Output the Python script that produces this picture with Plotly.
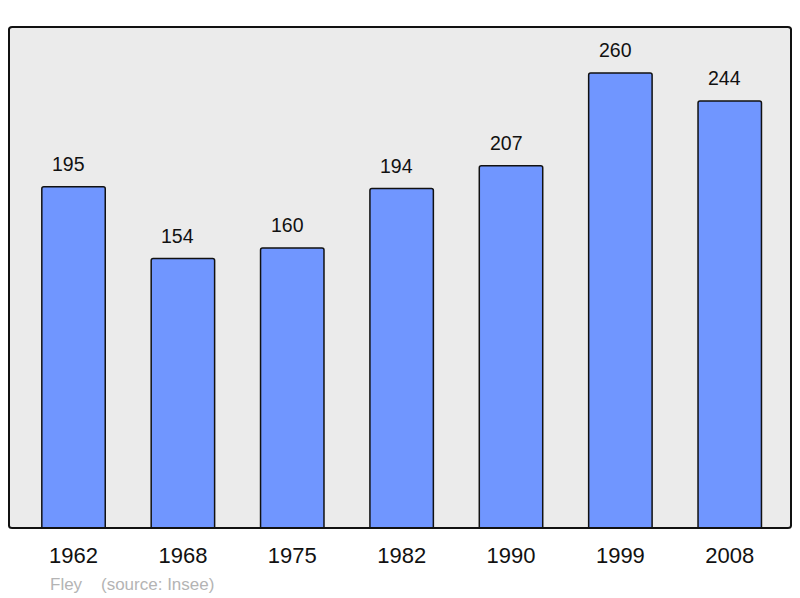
import plotly.graph_objects as go

years = ["1962", "1968", "1975", "1982", "1990", "1999", "2008"]
population = [195, 154, 160, 194, 207, 260, 244]

FONT = "Liberation Sans, Arial, sans-serif"
positions = list(range(len(years)))

fig = go.Figure(go.Bar(
    x=positions, y=population,
    width=0.58,
    marker=dict(color="#7096FF", line=dict(color="#111", width=1.5), cornerradius=2),
    hoverinfo="skip",
))

# value labels above each bar (sit slightly left of centre in the original)
for xi, v in zip(positions, population):
    fig.add_annotation(x=xi, y=v, text=str(v), showarrow=False,
                       yanchor="bottom", yshift=10, xshift=-5,
                       font=dict(size=19.5, color="#111", family=FONT))

# frame around the plot area, with slightly rounded corners
fig.add_shape(type="path", xref="paper", yref="paper",
              path="M 0,0.995 Q 0,1 0.004,1 L 0.996,1 Q 1,1 1,0.995 "
                   "L 1,0.005 Q 1,0 0.996,0 L 0.004,0 Q 0,0 0,0.005 Z",
              line=dict(color="#111", width=2), layer="above")

fig.add_annotation(xref="paper", yref="paper", x=0.05, y=-0.112,
                   xanchor="left", yanchor="middle", showarrow=False,
                   text="Fley\u00a0\u00a0\u00a0\u00a0(source: Insee)",
                   font=dict(size=17, color="#b4b4b4", family=FONT))

fig.update_layout(
    width=800, height=598,
    margin=dict(l=9, r=9, t=27, b=70),
    plot_bgcolor="#ebebeb", paper_bgcolor="#ffffff",
    showlegend=False,
    font=dict(family=FONT),
)
fig.update_xaxes(tickmode="array", tickvals=positions, ticktext=years,
                 range=[-0.59, 6.56], showgrid=False, zeroline=False,
                 ticks="", tickfont=dict(size=22, color="#111"), ticklabelstandoff=12)
fig.update_yaxes(range=[0, 286.3], showgrid=False, zeroline=False,
                 showticklabels=False)

# the page body has a default 8px margin; drop it so the figure fills the window
fig.write_html("out.html", config={"displayModeBar": False},
               post_script="document.body.style.margin='0';")
